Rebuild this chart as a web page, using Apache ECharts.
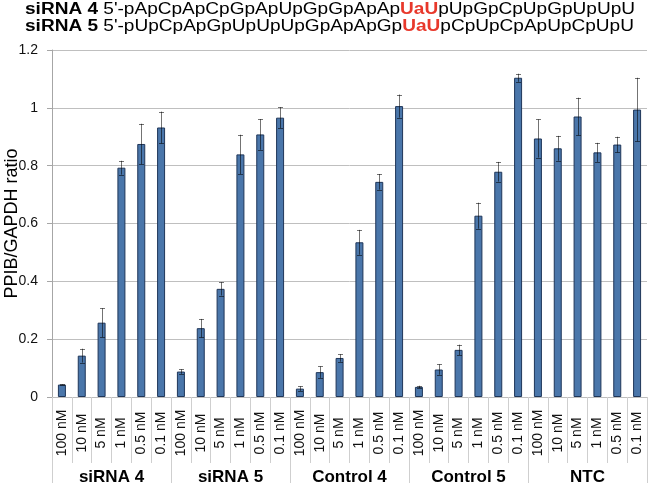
<!DOCTYPE html>
<html>
<head>
<meta charset="utf-8">
<script src="https://cdn.jsdelivr.net/npm/echarts@6/dist/echarts.min.js"></script>
<style>
html,body{margin:0;padding:0;background:#fff;}
#chart{width:649px;height:483px;}
</style>
</head>
<body>
<div id="chart"></div>
<script>
var groups = ['siRNA 4', 'siRNA 5', 'Control 4', 'Control 5', 'NTC'];
var concentrations = ['100 nM', '10 nM', '5 nM', '1 nM', '0.5 nM', '0.1 nM'];
var siRNA4 = [0.043, 0.143, 0.257, 0.793, 0.875, 0.932];
var siRNA4Err = [0.001, 0.024, 0.050, 0.024, 0.070, 0.055];
var siRNA5 = [0.088, 0.238, 0.374, 0.839, 0.908, 0.966];
var siRNA5Err = [0.008, 0.032, 0.023, 0.068, 0.053, 0.036];
var control4 = [0.029, 0.086, 0.135, 0.535, 0.744, 1.006];
var control4Err = [0.008, 0.020, 0.013, 0.043, 0.027, 0.040];
var control5 = [0.035, 0.095, 0.163, 0.627, 0.779, 1.104];
var control5Err = [0.004, 0.018, 0.018, 0.045, 0.034, 0.014];
var ntc = [0.894, 0.860, 0.970, 0.846, 0.873, 0.994];
var ntcErr = [0.066, 0.043, 0.065, 0.033, 0.027, 0.110];
var yTicks = [0, 0.2, 0.4, 0.6, 0.8, 1, 1.2];
var seqNames = ['siRNA 4', 'siRNA 5'];
var seqBefore = ["5'-pApCpApCpGpApUpGpGpApAp", "5'-pUpCpApGpUpUpUpGpApApGp"];
var seqMark = ['UaU', 'UaU'];
var seqAfter = ['pUpGpCpUpGpUpUpU', 'pCpUpCpApUpCpUpU'];

var allVals = [].concat(siRNA4, siRNA5, control4, control5, ntc);
var allErr = [].concat(siRNA4Err, siRNA5Err, control4Err, control5Err, ntcErr);
var cats = [];
groups.forEach(function (g) {
  concentrations.forEach(function (c) { cats.push(g + '|' + c); });
});
var errData = allVals.map(function (v, i) { return [i, v - allErr[i], v + allErr[i]]; });

var font = 'Liberation Sans, Arial, sans-serif';
var chart = echarts.init(document.getElementById('chart'), null, {renderer: 'canvas'});
chart.setOption({
  animation: false,
  backgroundColor: '#fff',
  grid: {left: 52, right: 2, top: 50, bottom: 86, containLabel: false, outerBoundsMode: 'none'},
  xAxis: [{
    type: 'category',
    data: cats,
    position: 'bottom',
    axisLine: {show: true, lineStyle: {color: '#bdbdbd', width: 1}},
    axisTick: {show: true, length: 66, interval: 0, lineStyle: {color: '#cfcfcf', width: 1}},
    axisLabel: {
      interval: 0, rotate: 90, align: 'center', verticalAlign: 'middle', margin: 36,
      fontFamily: font, fontSize: 14, color: '#111',
      formatter: function (v) { return v.split('|')[1]; }
    }
  }, {
    type: 'category',
    data: groups,
    position: 'bottom',
    axisLine: {show: false},
    axisTick: {show: true, length: 87, interval: 0, lineStyle: {color: '#cfcfcf', width: 1}},
    axisLabel: {interval: 0, margin: 72, fontFamily: font, fontSize: 17, fontWeight: 'bold', color: '#000'}
  }],
  yAxis: {
    type: 'value', min: 0, max: 1.2, interval: 0.2,
    name: 'PPIB/GAPDH ratio', nameLocation: 'middle', nameRotate: 90, nameGap: 31,
    nameMoveOverlap: false,
    nameTextStyle: {fontFamily: font, fontSize: 18, color: '#000'},
    axisLine: {show: true, lineStyle: {color: '#a6a6a6'}},
    axisTick: {show: true, length: 5, lineStyle: {color: '#a6a6a6'}},
    splitLine: {show: true, lineStyle: {color: '#bfbfbf', width: 1}},
    axisLabel: {
      fontFamily: font, fontSize: 14, color: '#111', margin: 14,
      formatter: function (v) {
        var best = yTicks.reduce(function (a, b) { return Math.abs(b - v) < Math.abs(a - v) ? b : a; });
        return String(best);
      }
    }
  },
  series: [{
    type: 'bar',
    xAxisIndex: 0,
    data: allVals,
    barWidth: 8,
    itemStyle: {color: '#4a76aa', borderColor: '#1f3659', borderWidth: 1}
  }, {
    type: 'custom',
    xAxisIndex: 0,
    data: errData,
    z: 10,
    renderItem: function (params, api) {
      var lo = api.coord([api.value(0), api.value(1)]);
      var hi = api.coord([api.value(0), api.value(2)]);
      var x = Math.round(lo[0]) + 0.5;
      var w = 2.5;
      var st = {stroke: 'rgba(0,0,0,0.55)', lineWidth: 1, fill: null};
      return {
        type: 'group',
        children: [
          {type: 'line', shape: {x1: x, y1: lo[1], x2: x, y2: hi[1]}, style: st},
          {type: 'line', shape: {x1: x - w, y1: Math.round(hi[1]) + 0.5, x2: x + w, y2: Math.round(hi[1]) + 0.5}, style: st},
          {type: 'line', shape: {x1: x - w, y1: Math.round(lo[1]) + 0.5, x2: x + w, y2: Math.round(lo[1]) + 0.5}, style: st}
        ]
      };
    }
  }],
  graphic: seqNames.map(function (n, i) {
    return {
      type: 'text', x: 25, y: 2 + i * 16.7, scaleX: 1.19,
      style: {
        text: '{b|' + n + '} ' + seqBefore[i] + '{r|' + seqMark[i] + '}' + seqAfter[i],
        font: '16px ' + font,
        fill: '#000',
        verticalAlign: 'top', textVerticalAlign: 'top',
        rich: {
          b: {fontWeight: 'bold', fontSize: 16, fontFamily: font, fill: '#000'},
          r: {fontWeight: 'bold', fontSize: 16, fontFamily: font, fill: '#e8382b'}
        }
      }
    };
  })
});
</script>
</body>
</html>
